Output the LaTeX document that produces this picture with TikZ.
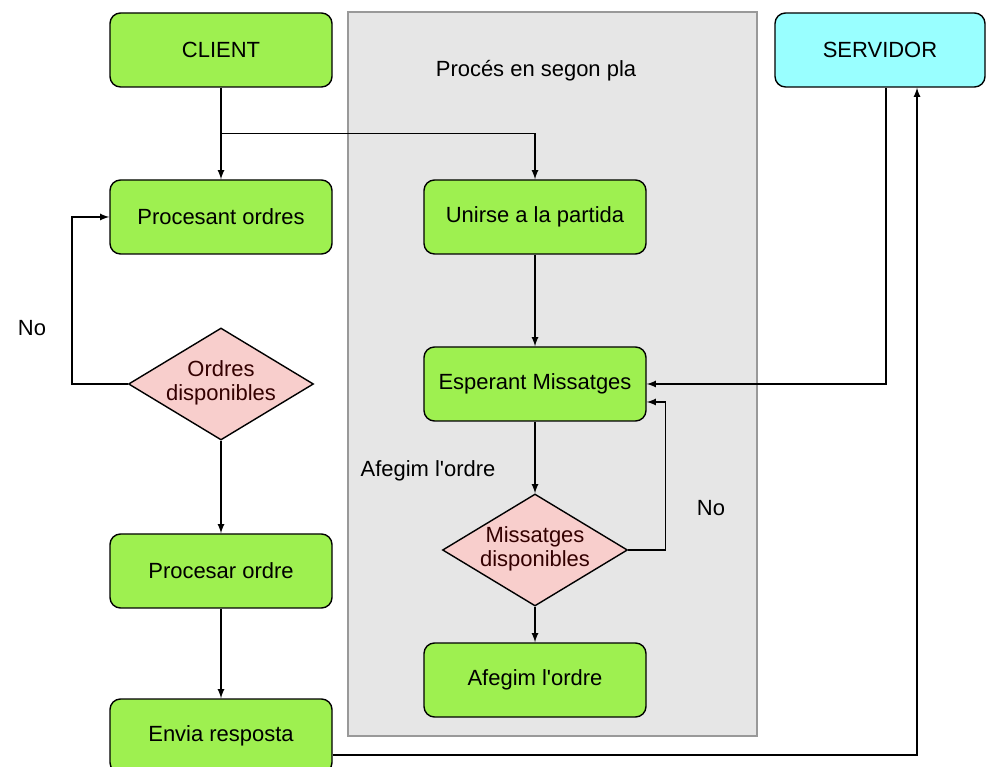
\documentclass[tikz,border=0pt]{standalone}
\usepackage{fontspec}
\setmainfont{Liberation Sans}
\usetikzlibrary{
    calc,positioning,arrows,shapes.geometric
}
\definecolor{boxgreen}{HTML}{9EF050}
\definecolor{boxcyan}{HTML}{99FFFF}
\definecolor{boxpink}{HTML}{F8CECC}
\definecolor{bggray}{HTML}{E6E6E6}
% two lines of text that do not grow the diamond
\newcommand{\twolines}[2]{\raisebox{-0.1cm}[0pt][0pt]{\begin{tabular}{@{}c@{}}#1\\#2\end{tabular}}}

\begin{document}
\begin{tikzpicture}[node distance=3.34cm, >=latex, thick,
                font=\fontsize{12.5}{14}\selectfont,
                procbox/.style={draw, rounded corners=6pt, fill=boxgreen,
                    minimum width=4.44cm, minimum height=1.48cm},
                srvbox/.style={procbox, fill=boxcyan, minimum width=4.2cm},
                decision/.style={diamond, draw, fill=boxpink, inner sep=0pt,
                    shape aspect=1.65, minimum width=3.7cm, minimum height=2.24cm,
                    text=black!80!red}]
                \useasboundingbox (0,0) rectangle (19.74,-15.34);
                % background process
                \draw[fill=bggray, draw=black!40] (6.96,-0.24) rectangle (15.14,-14.72);
                \node (0) at (10.72,-1.42) {Procés en segon pla};
                % client column
                \node[procbox] (1) at (4.42,-1.0) {CLIENT};
                \node[procbox, below of=1] (2) {Procesant ordres};
                \node[decision, below of=2] (3) {\twolines{Ordres}{disponibles}};
                \node[procbox, below of=3, node distance=3.74cm] (4) {Procesar ordre};
                \node[procbox, below of=4, node distance=3.3cm] (5) {Envia resposta};
                % inner column
                \node[procbox, right of=2, node distance=6.28cm] (6) {Unirse a la partida};
                \node[procbox, below of=6] (7) {Esperant Missatges};
                \node[decision, below of=7, node distance=3.32cm] (8) {\twolines{Missatges}{disponibles}};
                \node[procbox, below of=8, node distance=2.6cm] (9) {Afegim l\textquotesingle ordre};
                % server
                \node[srvbox] (10) at (17.6,-1.0) {SERVIDOR};
                \draw[->] (1) -- (2);
                \draw[->] ($(1.south)!0.5!(2.north)$) -| (6.north);
                \draw[->] (6) -- (7);
                \draw[->] (7) -- node[midway, left=0.66cm, yshift=-0.26cm] (11) {Afegim l\textquotesingle ordre} (8);
                \draw[->] (8) -- (9);
                \draw[->] (8.east) -- ++(0.74,0) |- ($(7.east)+(0,-0.36)$);
                \node (12) at (14.22,-10.16) {No};
                \draw[->] ($(10.south)+(0.12,0)$) |- (7.east);
                \draw[->] (3.west) -- ++(-1.12,0) |- (2.west);
                \node (13) at (0.64,-6.56) {No};
                \draw[->] (3) -- (4);
                \draw[->] (4) -- (5);
                \draw[->] ($(5.east)+(0,-0.38)$) -| ($(10.south)+(0.74,0)$);
            \end{tikzpicture}
\end{document}
